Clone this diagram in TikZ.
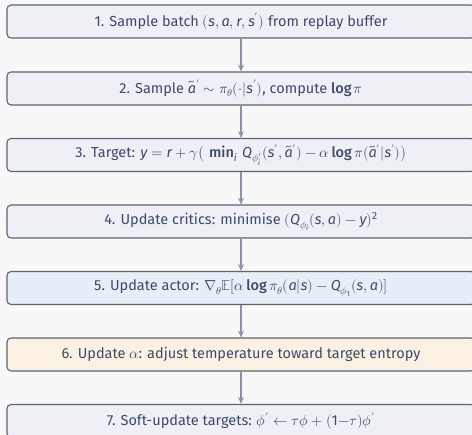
\documentclass[tikz,border=0pt]{standalone}
\usepackage{fontspec}
\usepackage{unicode-math}
\setmainfont{Fira Sans}
\setmathfont{Latin Modern Math}
\setmathfont[range=it/{latin,Latin}]{Fira Sans Italic}
\setmathfont[range=up/num]{Fira Sans}
\newfontfamily\firamed{Fira Sans Medium}
\usetikzlibrary{arrows.meta}
\definecolor{pagebg}{HTML}{F8F8F9}
\definecolor{boxfill}{HTML}{EEF0F5}
\definecolor{actorfill}{HTML}{E8EEF8}
\definecolor{alphafill}{HTML}{FBF1E3}
\definecolor{boxline}{HTML}{5C6570}
\definecolor{inktext}{HTML}{3C4A6A}
\definecolor{flowline}{HTML}{8A92A8}
\newcommand{\opname}[1]{\mathop{\mbox{\firamed #1}}\nolimits}
\tikzset{
  stepbox/.style={draw=boxline, line width=1.1pt, fill=boxfill, rounded corners=4pt,
    minimum width=468pt, minimum height=33pt, inner sep=0pt,
    text=inktext, font=\fontsize{14.5}{17}\selectfont},
  flow/.style={draw=flowline, line width=1.1pt, -{Stealth[length=7pt,width=6pt,inset=2.5pt]}}
}
\begin{document}
\begin{tikzpicture}[x=1pt,y=-1pt]
  \fill[pagebg] (0,0) rectangle (472,435);
  \useasboundingbox (0,0) rectangle (472,435);
  \node[stepbox] (s1) at (241,21.5) {1. Sample batch $(s,a,r,s')$ from replay buffer};
  \node[stepbox] (s2) at (241,88.5) {2. Sample $\tilde{a}'\sim\pi_\theta(\cdot|s')$, compute $\opname{log}\pi$};
  \node[stepbox] (s3) at (241,155) {3. Target: $y=r+\gamma\big(\,\opname{min}_i\, Q_{\phi'_i}(s',\tilde{a}')-\alpha\opname{log}\pi(\tilde{a}'|s')\big)$};
  \node[stepbox] (s4) at (241,221.5) {4. Update critics: minimise $(Q_{\phi_i}(s,a)-y)^2$};
  \node[stepbox, fill=actorfill] (s5) at (241,288) {5. Update actor: $\nabla_\theta\mathbb{E}[\alpha\opname{log}\pi_\theta(a|s)-Q_{\phi_1}(s,a)]$};
  \node[stepbox, fill=alphafill] (s6) at (241,354.5) {6. Update $\alpha$: adjust temperature toward target entropy};
  \node[stepbox] (s7) at (241,421) {7. Soft-update targets: $\phi'\leftarrow\tau\phi+(1{-}\tau)\phi'$};
  \foreach \a/\b in {s1/s2,s2/s3,s3/s4,s4/s5,s5/s6,s6/s7}
    \draw[flow] (\a) -- (\b);
\end{tikzpicture}
\end{document}
